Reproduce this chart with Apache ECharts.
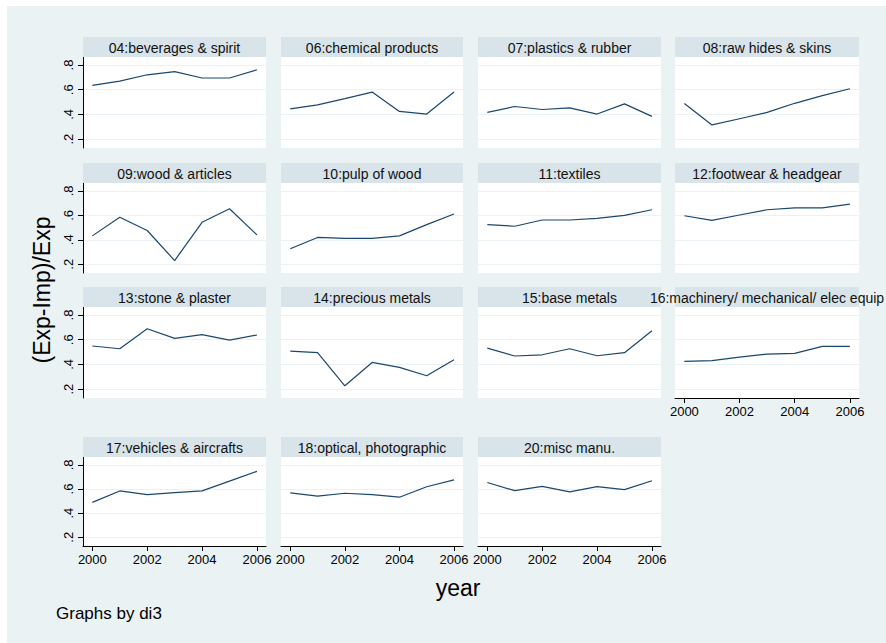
<!DOCTYPE html>
<html>
<head>
<meta charset="utf-8">
<script src="https://cdn.jsdelivr.net/npm/echarts@6/dist/echarts.min.js"></script>
<style>
html, body { margin: 0; padding: 0; background: #ffffff; }
#chart { width: 886px; height: 643px; }
</style>
</head>
<body>
<div id="chart"></div>
<script>
// Export/import ratio by HS section, 2000-2006
const years = [2000, 2001, 2002, 2003, 2004, 2005, 2006];
const xTicks = [2000, 2002, 2004, 2006];
const yTicks = [0.2, 0.4, 0.6, 0.8];

const panelTitles = [
  "04:beverages & spirit", "06:chemical products", "07:plastics & rubber", "08:raw hides & skins",
  "09:wood & articles", "10:pulp of wood", "11:textiles", "12:footwear & headgear",
  "13:stone & plaster", "14:precious metals", "15:base metals", "16:machinery/ mechanical/ elec equip",
  "17:vehicles & aircrafts", "18:optical, photographic", "20:misc manu."
];

const s04 = [0.635, 0.670, 0.721, 0.746, 0.695, 0.695, 0.762];
const s06 = [0.445, 0.477, 0.528, 0.581, 0.424, 0.403, 0.581];
const s07 = [0.416, 0.464, 0.440, 0.453, 0.403, 0.485, 0.384];
const s08 = [0.488, 0.315, 0.365, 0.416, 0.490, 0.552, 0.608];
const s09 = [0.432, 0.584, 0.476, 0.230, 0.543, 0.654, 0.440];
const s10 = [0.327, 0.419, 0.411, 0.411, 0.432, 0.524, 0.611];
const s11 = [0.524, 0.511, 0.562, 0.562, 0.576, 0.600, 0.646];
const s12 = [0.597, 0.559, 0.603, 0.646, 0.662, 0.662, 0.692];
const s13 = [0.549, 0.527, 0.689, 0.611, 0.641, 0.597, 0.638];
const s14 = [0.508, 0.495, 0.227, 0.416, 0.376, 0.308, 0.438];
const s15 = [0.532, 0.468, 0.478, 0.527, 0.470, 0.495, 0.673];
const s16 = [0.424, 0.430, 0.459, 0.484, 0.489, 0.546, 0.546];
const s17 = [0.489, 0.584, 0.554, 0.570, 0.584, 0.665, 0.746];
const s18 = [0.568, 0.541, 0.565, 0.554, 0.532, 0.619, 0.676];
const s20 = [0.654, 0.586, 0.622, 0.576, 0.619, 0.595, 0.668];

const panelSeries = [s04, s06, s07, s08, s09, s10, s11, s12, s13, s14, s15, s16, s17, s18, s20];

// panel geometry (px)
const colLeft = [83, 281, 478, 675];
const colWidth = [183, 182, 183, 184];
const headerTop = [37, 163, 287, 437];
const plotBottom = [148, 273, 398, 546];
const headerH = 20;

const FONT = '"Liberation Sans", Arial, sans-serif';
const LINE = '#1a476f';
const STRIP = '#d8e4ea';
const BG = '#eaf2f3';

const grids = [], xAxes = [], yAxes = [], series = [], graphics = [];

// white margin strips at top and left edge
graphics.push({ type: 'rect', z: -10, shape: { x: 0, y: 0, width: 7, height: 643 }, style: { fill: '#ffffff' } });
graphics.push({ type: 'rect', z: -10, shape: { x: 0, y: 0, width: 886, height: 6 }, style: { fill: '#ffffff' } });

panelSeries.forEach((vals, i) => {
  const row = Math.floor(i / 4), col = i % 4;
  const left = colLeft[col], width = colWidth[col];
  const top = headerTop[row] + headerH;
  const height = plotBottom[row] - top;
  const showY = col === 0;
  const showX = row === 3 || i === 11;

  grids.push({ left: left, top: top, width: width, height: height, show: true,
    backgroundColor: '#ffffff', borderWidth: 0, containLabel: false });

  xAxes.push({
    gridIndex: i, type: 'value', min: 1999.66, max: 2006.33,
    axisLine: { show: showX, onZero: false, lineStyle: { color: '#000', width: 1 } },
    axisTick: { show: showX, length: 5, inside: false, customValues: xTicks, lineStyle: { color: '#000' } },
    axisLabel: { show: showX, customValues: xTicks, fontSize: 13, color: '#000', fontFamily: FONT, margin: 7,
      formatter: v => String(v) },
    splitLine: { show: false }
  });

  yAxes.push({
    gridIndex: i, type: 'value', min: 0.128, max: 0.865,
    axisLine: { show: showY, onZero: false, lineStyle: { color: '#000', width: 1 } },
    axisTick: { show: showY, length: 5, inside: false, customValues: yTicks, lineStyle: { color: '#000' } },
    axisLabel: { show: showY, customValues: yTicks, rotate: 90, fontSize: 13, color: '#000', fontFamily: FONT, margin: 8,
      formatter: v => v.toFixed(1).replace(/^0/, '') },
    splitLine: { show: true, lineStyle: { color: BG, width: 1 } }
  });

  series.push({
    type: 'line', xAxisIndex: i, yAxisIndex: i,
    data: years.map((y, k) => [y, vals[k]]),
    symbol: 'none', silent: true,
    lineStyle: { color: LINE, width: 1.2 }
  });

  // header strip with panel title
  graphics.push({ type: 'rect', z: 1, shape: { x: left, y: headerTop[row], width: width, height: headerH },
    style: { fill: STRIP } });
  graphics.push({ type: 'text', z: 2, x: left + width / 2, y: headerTop[row] + headerH / 2 + 0.5,
    style: { text: panelTitles[i], fill: '#111', fontSize: 14, fontFamily: FONT,
      align: 'center', verticalAlign: 'middle' } });
});

// axis titles and note
graphics.push({ type: 'text', z: 2, x: 42, y: 290, rotation: Math.PI / 2,
  style: { text: '(Exp-Imp)/Exp', fill: '#000', fontSize: 23, fontFamily: FONT, align: 'center', verticalAlign: 'middle' } });
graphics.push({ type: 'text', z: 2, x: 458, y: 588,
  style: { text: 'year', fill: '#000', fontSize: 23, fontFamily: FONT, align: 'center', verticalAlign: 'middle' } });
graphics.push({ type: 'text', z: 2, x: 56, y: 613,
  style: { text: 'Graphs by di3', fill: '#000', fontSize: 17, fontFamily: FONT, align: 'left', verticalAlign: 'middle' } });

const chart = echarts.init(document.getElementById('chart'), null, { renderer: 'svg' });
chart.setOption({
  animation: false,
  backgroundColor: BG,
  grid: grids,
  xAxis: xAxes,
  yAxis: yAxes,
  series: series,
  graphic: graphics
});
</script>
</body>
</html>
